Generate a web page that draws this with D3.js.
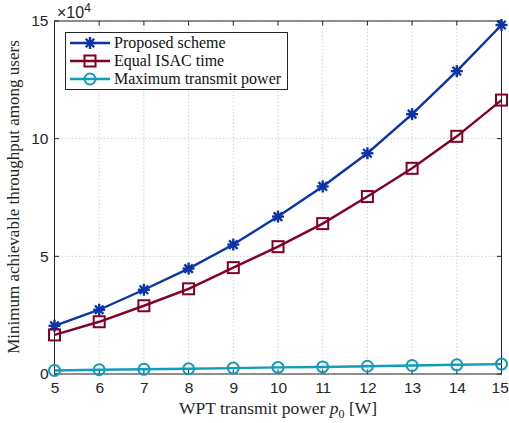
<!DOCTYPE html>
<html><head><meta charset="utf-8">
<script src="https://cdn.jsdelivr.net/npm/d3@7"></script>
<style>body{margin:0;background:#fff}</style>
</head><body>
<script>
const powers = [5,6,7,8,9,10,11,12,13,14,15];
const proposed = [2.05,2.73,3.58,4.48,5.5,6.69,7.97,9.38,11.04,12.87,14.83];
const equalIsac = [1.66,2.22,2.9,3.62,4.52,5.41,6.39,7.54,8.74,10.1,11.64];
const maxPower = [0.15,0.18,0.2,0.22,0.25,0.28,0.3,0.33,0.36,0.39,0.42];
const xTicks = [5,6,7,8,9,10,11,12,13,14,15];
const yTicks = [0,5,10,15];
const seriesNames = ["Proposed scheme","Equal ISAC time","Maximum transmit power"];
const seriesColors = ["#0a34a8","#800026","#129bbb"];
const seriesMarkers = ["star","square","circle"];

const W=509,H=423;
const m={l:54.5,r:501.5,t:21,b:374};
const svg=d3.select("body").append("svg").attr("width",W).attr("height",H);
const x=d3.scaleLinear().domain([5,15]).range([m.l,m.r]);
const y=d3.scaleLinear().domain([0,15]).range([m.b,m.t]);

const g=svg.append("g");
g.selectAll(".gx").data(xTicks).enter().append("line")
 .attr("x1",d=>x(d)).attr("x2",d=>x(d)).attr("y1",m.t).attr("y2",m.b)
 .attr("stroke","#d0d0d0").attr("stroke-width",1).attr("stroke-dasharray","1.5,2");
g.selectAll(".gy").data(yTicks).enter().append("line")
 .attr("y1",d=>y(d)).attr("y2",d=>y(d)).attr("x1",m.l).attr("x2",m.r)
 .attr("stroke","#d0d0d0").attr("stroke-width",1).attr("stroke-dasharray","1.5,2");

const fontTick="Liberation Sans, Arial, Helvetica, sans-serif";
const xAxis=d3.axisBottom(x).tickValues(xTicks).tickSize(0).tickPadding(7);
const xa=svg.append("g").attr("transform",`translate(0,${m.b})`).call(xAxis);
xa.select(".domain").remove();
xa.selectAll("text").attr("font-family",fontTick).attr("font-size",15.5).attr("fill","#262626").attr("dy","0.75em");
xa.selectAll(".tick").filter(d=>d===15).select("text").attr("dx","-0.12em");
const yAxis=d3.axisLeft(y).tickValues(yTicks).tickSize(0).tickPadding(6);
const ya=svg.append("g").attr("transform",`translate(${m.l},0)`).call(yAxis);
ya.select(".domain").remove();
ya.selectAll("text").attr("font-family",fontTick).attr("font-size",15.5).attr("fill","#262626");

const tk=svg.append("g").attr("stroke","#262626").attr("stroke-width",1);
xTicks.forEach(v=>{
 tk.append("line").attr("x1",x(v)).attr("x2",x(v)).attr("y1",m.b).attr("y2",m.b-4.5);
 tk.append("line").attr("x1",x(v)).attr("x2",x(v)).attr("y1",m.t).attr("y2",m.t+4.5);
});
yTicks.forEach(v=>{
 tk.append("line").attr("x1",m.l).attr("x2",m.l+4.5).attr("y1",y(v)).attr("y2",y(v));
 tk.append("line").attr("x1",m.r).attr("x2",m.r-4.5).attr("y1",y(v)).attr("y2",y(v));
});
svg.append("rect").attr("x",m.l).attr("y",m.t).attr("width",m.r-m.l).attr("height",m.b-m.t)
 .attr("fill","none").attr("stroke","#262626").attr("stroke-width",1);

const ex=svg.append("text").attr("x",57).attr("y",18).attr("font-family",fontTick).attr("font-size",16).attr("fill","#262626");
ex.append("tspan").text("×10");
ex.append("tspan").attr("dy",-6).attr("font-size",12).text("4");

const serif="Liberation Serif, DejaVu Serif, Times New Roman, serif";
const xl=svg.append("text").attr("x",(m.l+m.r)/2).attr("y",414).attr("text-anchor","middle")
 .style("font-family",serif).attr("font-size",17.5).attr("fill","#262626");
xl.append("tspan").text("WPT transmit power ");
xl.append("tspan").attr("font-style","italic").text("p");
xl.append("tspan").attr("font-size",12).attr("dy",4).text("0");
xl.append("tspan").attr("dy",-4).text(" [W]");
svg.append("text").attr("transform",`translate(19,197) rotate(-90)`).attr("text-anchor","middle")
 .style("font-family",serif).attr("font-size",17).attr("fill","#262626")
 .text("Minimum achievable throughput among users");

function marker(sel,type,color){
 if(type==="square"){
  sel.append("rect").attr("x",-5.5).attr("y",-5.5).attr("width",11).attr("height",11)
   .attr("fill","none").attr("stroke",color).attr("stroke-width",2);
 } else if(type==="circle"){
  sel.append("circle").attr("r",5.5).attr("fill","none").attr("stroke",color).attr("stroke-width",2);
 } else {
  const s=6;
  [0,45,90,135].forEach(a=>{
   sel.append("line").attr("x1",-s).attr("x2",s).attr("y1",0).attr("y2",0)
    .attr("transform",`rotate(${a})`).attr("stroke",color).attr("stroke-width",2.4);
  });
  sel.append("circle").attr("r",3).attr("fill",color);
 }
}

const allData=[proposed,equalIsac,maxPower];
const line=d3.line().x((d,i)=>x(powers[i])).y(d=>y(d));
allData.forEach((vals,k)=>{
 svg.append("path").attr("d",line(vals)).attr("fill","none").attr("stroke",seriesColors[k]).attr("stroke-width",2.4);
 vals.forEach((v,i)=>{
  const mg=svg.append("g").attr("transform",`translate(${x(powers[i])},${y(v)})`);
  marker(mg,seriesMarkers[k],seriesColors[k]);
 });
});

const lg=svg.append("g");
lg.append("rect").attr("x",65.5).attr("y",32.5).attr("width",222).attr("height",57)
 .attr("fill","#fff").attr("stroke","#262626").attr("stroke-width",1);
seriesNames.forEach((n,k)=>{
 const yy=43+k*18;
 lg.append("line").attr("x1",70).attr("x2",110).attr("y1",yy).attr("y2",yy).attr("stroke",seriesColors[k]).attr("stroke-width",2.4);
 marker(lg.append("g").attr("transform",`translate(90,${yy})`),seriesMarkers[k],seriesColors[k]);
 lg.append("text").attr("x",114).attr("y",yy+5).style("font-family",serif).attr("font-size",16).attr("fill","#111").text(n);
});
</script>
</body></html>
